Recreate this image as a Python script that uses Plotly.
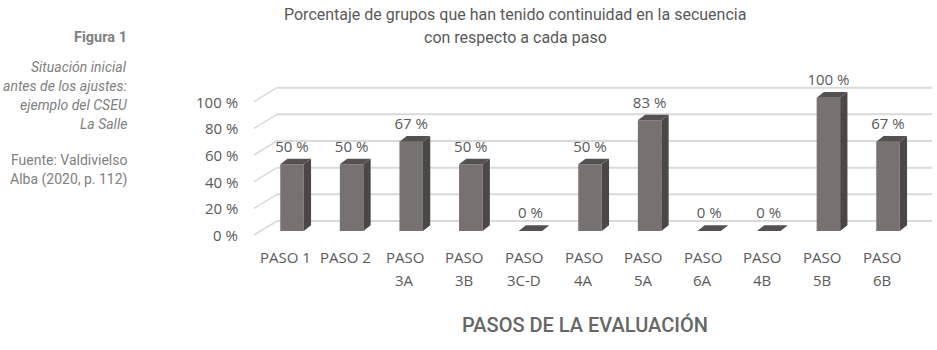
import plotly.graph_objects as go

# Data
categories = ["PASO 1", "PASO 2", "PASO 3A", "PASO 3B", "PASO 3C-D", "PASO 4A",
              "PASO 5A", "PASO 6A", "PASO 4B", "PASO 5B", "PASO 6B"]
values = [50, 50, 67, 50, 0, 50, 83, 0, 0, 100, 67]
y_ticks = [0, 20, 40, 60, 80, 100]
tick_labels = [f"{t} %" for t in y_ticks]

# Geometry (pixels per unit) used to fake the 3D look
W, H = 937, 350
PX_PER_CAT = 59.6
PX_PER_PCT = 1.3333
X0_PX = 292          # pixel of the first category centre
Y0_PX = 231          # pixel of the 0 % level on the bar front plane

def dx(px):
    return px / PX_PER_CAT

def dy(px):
    return px / PX_PER_PCT

x_range = [-X0_PX / PX_PER_CAT, (W - X0_PX) / PX_PER_CAT]
y_range = [(Y0_PX - H) / PX_PER_PCT, Y0_PX / PX_PER_PCT]

BAR_W = dx(23.5)
DEPTH_X = dx(7.3)
DEPTH_Y = dy(5.7)
BACK_Y = dy(10)      # back wall above bar front
FRONT_Y = dy(-4)     # tick labels sit on the floor front edge

FRONT = "#777271"
SIDE = "#4b4746"
TOP = "#555150"
GRID = "#d9d9d9"
TXT = "#595959"

idx = list(range(len(categories)))
fig = go.Figure()

# Back-wall gridlines and floor diagonals, kept beneath the bars
wall_left = dx(277 - X0_PX)
wall_right = dx(932 - X0_PX)
floor_front = dx(254 - X0_PX)
shapes = []
for t in y_ticks:
    shapes.append(dict(type="line", xref="x", yref="y", layer="below",
                       x0=wall_left, x1=wall_right, y0=t + BACK_Y, y1=t + BACK_Y,
                       line=dict(color=GRID, width=2)))
    shapes.append(dict(type="line", xref="x", yref="y", layer="below",
                       x0=floor_front, x1=wall_left, y0=t + FRONT_Y, y1=t + BACK_Y,
                       line=dict(color=GRID, width=1.5)))

# Front faces
fig.add_trace(go.Bar(x=idx, y=values, width=BAR_W, marker=dict(color=FRONT, line=dict(width=0)),
                     showlegend=False, hoverinfo="skip"))

# Side and top faces
sx, sy, tx, ty = [], [], [], []
for i, v in zip(idx, values):
    r = i + BAR_W / 2
    l = i - BAR_W / 2
    if v > 0:
        sx += [r, r + DEPTH_X, r + DEPTH_X, r, r, None]
        sy += [0, DEPTH_Y, v + DEPTH_Y, v, 0, None]
    tx += [l, r, r + DEPTH_X, l + DEPTH_X, l, None]
    ty += [v, v, v + DEPTH_Y, v + DEPTH_Y, v, None]
fig.add_trace(go.Scatter(x=sx, y=sy, mode="lines", fill="toself", fillcolor=SIDE,
                         line=dict(width=0, color=SIDE), hoverinfo="skip", showlegend=False))
fig.add_trace(go.Scatter(x=tx, y=ty, mode="lines", fill="toself", fillcolor=TOP,
                         line=dict(width=0, color=TOP), hoverinfo="skip", showlegend=False))

# Data labels
fig.add_trace(go.Scatter(x=idx, y=[v + dy(16.5) for v in values], mode="text",
                         text=[f"{v} %" for v in values], textposition="middle center",
                         textfont=dict(family="Open Sans", size=15, color=TXT),
                         hoverinfo="skip", showlegend=False))

annotations = []
# Y tick labels
for t, lab in zip(y_ticks, tick_labels):
    annotations.append(dict(x=dx(240 - X0_PX), y=t + FRONT_Y, xref="x", yref="y", text=lab,
                            showarrow=False, xanchor="right", yanchor="middle",
                            font=dict(family="Open Sans", size=15, color=TXT)))
# Category labels (two lines each)
for i, c in zip(idx, categories):
    parts = c.split(" ")
    lines = [c] if len(parts[1]) == 1 else parts
    for k, line in enumerate(lines):
        annotations.append(dict(x=i - dx(6.5), y=dy(Y0_PX - 257 - 23 * k), xref="x", yref="y",
                                text=line, showarrow=False, xanchor="center", yanchor="middle",
                                font=dict(family="Open Sans", size=15, color=TXT)))

# Title and axis title
annotations.append(dict(x=515 / W, y=1 - 15 / H, xref="paper", yref="paper",
                        text="Porcentaje de grupos que han tenido continuidad en la secuencia",
                        showarrow=False, xanchor="center", yanchor="middle",
                        font=dict(family="Roboto", size=16, color=TXT)))
annotations.append(dict(x=515 / W, y=1 - 38 / H, xref="paper", yref="paper",
                        text="con respecto a cada paso",
                        showarrow=False, xanchor="center", yanchor="middle",
                        font=dict(family="Roboto", size=16, color=TXT)))
annotations.append(dict(x=585 / W, y=1 - 325 / H, xref="paper", yref="paper",
                        text="PASOS DE LA EVALUACIÓN",
                        showarrow=False, xanchor="center", yanchor="middle",
                        font=dict(family="Roboto", size=20, weight=500, color="#666666")))

# Side caption
caption = [
    ("<b>Figura 1</b>", 37, 14.5),
    ("<i>Situación inicial</i>", 67, 14),
    ("<i>antes de los ajustes:</i>", 86, 14),
    ("<i>ejemplo del CSEU</i>", 105, 14),
    ("<i>La Salle</i>", 124, 14),
    ("Fuente: Valdivielso", 160, 14),
    ("Alba (2020, p. 112)", 180, 14),
]
for text, ypx, size in caption:
    annotations.append(dict(x=129 / W, y=1 - ypx / H, xref="paper", yref="paper", text=text,
                            showarrow=False, xanchor="right", yanchor="middle",
                            font=dict(family="Roboto", size=size, color="#808080")))

fig.update_layout(
    width=W, height=H, margin=dict(l=0, r=0, t=0, b=0),
    paper_bgcolor="white", plot_bgcolor="white",
    xaxis=dict(range=x_range, visible=False, fixedrange=True),
    yaxis=dict(range=y_range, visible=False, fixedrange=True),
    shapes=shapes, annotations=annotations, showlegend=False,
)

fig.write_html("out.html")
